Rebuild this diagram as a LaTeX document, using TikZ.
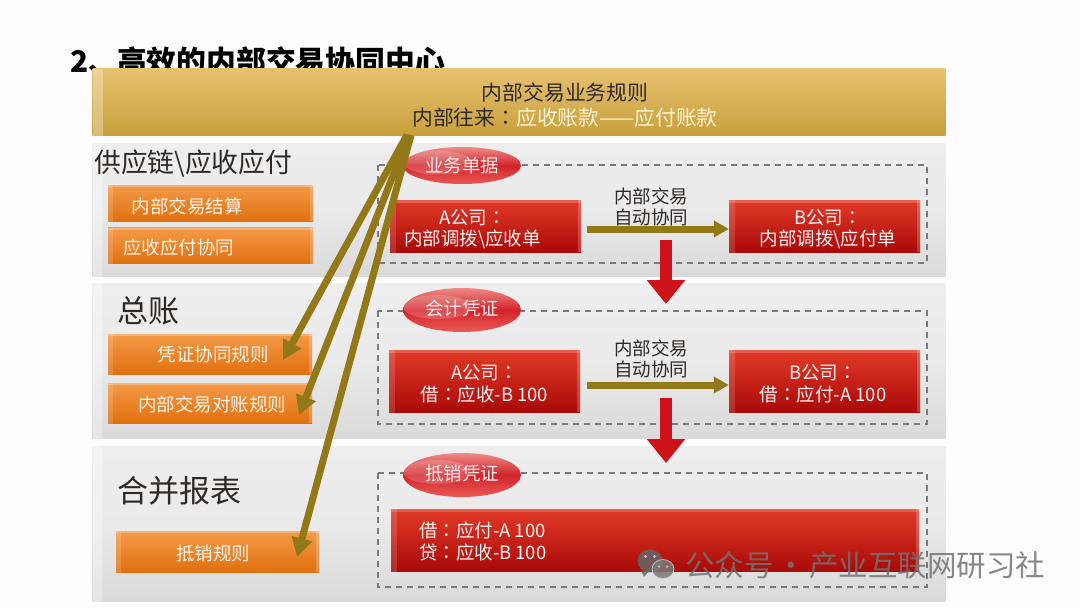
\documentclass[tikz,border=0pt]{standalone}
\usepackage{fontspec}
\setmainfont{Noto Sans CJK SC}
\newfontfamily\colonfont{Noto Sans CJK TC}
\usetikzlibrary{arrows.meta,shapes.geometric}
\definecolor{bgc}{HTML}{FDFDFD}
\definecolor{goldline}{HTML}{937818}
\definecolor{darkred}{HTML}{CE1218}
\definecolor{txtdark}{HTML}{2E2A28}
\definecolor{cream}{HTML}{FFF3D2}
\newcommand{\cln}{{\colonfont ：}}
\newcommand{\fs}[1]{\fontsize{#1}{#1}\selectfont}
% text in a box: #1 shift right, #2 shift down, #3 line distance, #4 alignment, #5 the lines
\newcommand{\sh}[5]{\makebox[0pt][c]{\hspace*{#1pt}\raisebox{-#2pt}[\height][\depth]{\parbox[c]{300pt}{\fontsize{18.5}{#3}\selectfont#4 #5}}}}
\tikzset{
  x=1pt,y=-1pt,
  panel/.style={inner sep=0pt,top color=#1!80!white,bottom color=#1!93!black,middle color=#1,
    path picture={\fill[white,opacity=.35] (path picture bounding box.north west) rectangle ++(9pt,-170pt);}},
  barbox/.style={inner sep=0pt,top color=bar1,bottom color=bar2,text=txtdark,align=center,
    path picture={\fill[white,opacity=.3] (path picture bounding box.north west) rectangle ++(10pt,-80pt);}},
  orangebox/.style={inner sep=0pt,top color=orange1,bottom color=orange2,text=white!92!orange,
    path picture={\fill[white,opacity=.25] (path picture bounding box.north west) rectangle ++(210pt,-2pt);
      \fill[white,opacity=.15] (path picture bounding box.north west) rectangle ++(5pt,-50pt);
      \fill[white,opacity=.2] (path picture bounding box.south east) rectangle ++(-3pt,50pt);}},
  redbox/.style={inner sep=0pt,top color=red1,bottom color=red2,text=white!95!red,align=center,
    path picture={\fill[white,opacity=.14] (path picture bounding box.north west) rectangle ++(6pt,-90pt);
      \fill[white,opacity=.18] (path picture bounding box.north west) rectangle ++(560pt,-3pt);
      \fill[white,opacity=.2] (path picture bounding box.south east) rectangle ++(-3pt,90pt);}},
  tagell/.style={ellipse,inner sep=0pt,minimum width=118pt,top color=tag1,bottom color=tag2,middle color=tag3,text=white!92!red,
    path picture={\fill[white,opacity=.18] (path picture bounding box.west) ++(34pt,3pt) ellipse (34pt and 12pt);}},
  dashbox/.style={draw=black!52,line width=1.1pt,dash pattern=on 6pt off 5pt},
  goldarrow/.style={draw=goldline,line width=7pt,-{Triangle[length=19pt,width=20pt]}},
  darrow/.style={draw=goldline,line width=7pt,-{Triangle[length=15pt,width=16pt]}},
  redarrow/.style={draw=darkred,line width=12pt,-{Triangle[length=24pt,width=37pt]}},
  headtext/.style={inner sep=0pt,text=txtdark},
  flowtext/.style={inner sep=0pt,text=txtdark,align=center,font=\fontsize{18.5}{21}\selectfont},
  ruletext/.style={inner sep=0pt,text=txtdark,align=center,font=\fontsize{20.8}{25}\selectfont},
  mark text/.style={inner sep=0pt,anchor=west,text=black!55,opacity=.85},
}
\definecolor{bar1}{HTML}{E6C170}
\definecolor{bar2}{HTML}{C99F3C}
\definecolor{orange1}{HTML}{F49A48}
\definecolor{orange2}{HTML}{E0700F}
\definecolor{red1}{HTML}{E23A28}
\definecolor{red2}{HTML}{A90A08}
\definecolor{tag1}{HTML}{EE8A85}
\definecolor{tag2}{HTML}{EA5A55}
\definecolor{tag3}{HTML}{D2242A}
\definecolor{panelc}{HTML}{EAEAEA}
\begin{document}
\begin{tikzpicture}
\useasboundingbox (0,0) rectangle (1080,608);
\fill[bgc] (0,0) rectangle (1080,608);
% title (its lower edge is hidden by the bar)
\node[inner sep=0pt,anchor=west,text=black] (title) at (70,61) {\fs{29.8}\bfseries 2、\hspace{-1pt}高效的内部交易协同中心};
% rule bar
\node[barbox,minimum width=853pt,minimum height=67pt] (rules) at (519,102) {};
\node[ruletext] (rulestext) at (565,105.5) {内部交易业务规则\\内部往来\cln\textcolor{cream}{应收账款——应付账款}};
% panels
\node[panel=panelc,minimum width=853pt,minimum height=133pt] (p1) at (519,209.5) {};
\node[panel=panelc,minimum width=853pt,minimum height=155pt] (p2) at (519,360.5) {};
\node[panel=panelc,minimum width=853pt,minimum height=155pt] (p3) at (519,523.5) {};
% dashed frames
\draw[dashbox] (378,165) rectangle (927,263);
\draw[dashbox] (378,311) rectangle (927,424);
\draw[dashbox] (378,473) rectangle (927,587);
% left headings
\node[headtext,anchor=west] (h1) at (94,164) {\fs{26.8}供应链\textbackslash 应收应付};
\node[headtext,anchor=west] (h2) at (117,311) {\fs{31}总账};
\node[headtext,anchor=west] (h3) at (117,491) {\fs{31}合并报表};
% orange boxes
\node[orangebox,minimum width=205pt,minimum height=36pt] (o1) at (210.5,203) {\sh{-47}{3.5}{22}{\centering}{内部交易结算}};
\node[orangebox,minimum width=205pt,minimum height=36pt] (o2) at (210.5,245.5) {\sh{-64}{1.5}{22}{\centering}{应收应付协同}};
\node[orangebox,minimum width=204pt,minimum height=40pt] (o3) at (210,354) {\sh{6}{.5}{22}{\centering}{凭证协同规则}};
\node[orangebox,minimum width=204pt,minimum height=40pt] (o4) at (210,403) {\sh{4}{1.5}{22}{\centering}{内部交易对账规则}};
\node[orangebox,minimum width=203pt,minimum height=41pt] (o5) at (217.5,551.5) {\sh{-9}{1.5}{22}{\centering}{抵销规则}};
% tags
\node[tagell,minimum height=37pt] (t1) at (462,165.5) {\sh{0}{0}{22}{\centering}{业务单据}};
\node[tagell,minimum height=44pt] (t2) at (462,310) {\sh{0}{-2}{22}{\centering}{会计凭证}};
\node[tagell,minimum height=44pt] (t3) at (462,475) {\sh{0}{-2}{22}{\centering}{抵销凭证}};
% red boxes
\node[redbox,minimum width=191pt,minimum height=52pt] (a1) at (485.5,226) {\sh{-26}{3}{21}{\centering}{A公司\cln\\内部调拨\textbackslash 应收单}};
\node[redbox,minimum width=191pt,minimum height=52pt] (b1) at (824.5,226) {\sh{7}{3}{21}{\centering}{B公司\cln\\内部调拨\textbackslash 应付单}};
\node[redbox,minimum width=191pt,minimum height=62pt] (a2) at (484.5,381) {\sh{0}{2.5}{22}{\centering}{A公司\cln\\借\cln 应收-B 100}};
\node[redbox,minimum width=191pt,minimum height=62pt] (b2) at (824.5,381) {\sh{-3}{2.5}{22}{\centering}{B公司\cln\\借\cln 应付-A 100}};
\node[redbox,minimum width=528pt,minimum height=62pt] (c3) at (655,540) {\sh{-172}{1}{22}{\raggedright}{借\cln 应付-A 100\\贷\cln 应收-B 100}};
% horizontal flows
\node[flowtext] (f1) at (651,207) {内部交易\\自动协同};
\node[flowtext] (f2) at (651,359) {内部交易\\自动协同};
\coordinate (g1s) at (587,229);
\coordinate (g2s) at (587,385);
\draw[darrow] (g1s) -- (g1s -| b1.west);
\draw[darrow] (g2s) -- (g2s -| b2.west);
% vertical flows
\coordinate (r1s) at (666,240);
\coordinate (r1e) at (666,304);
\coordinate (r2s) at (666,398);
\coordinate (r2e) at (666,463);
\draw[redarrow] (r1s) -- (r1e);
\draw[redarrow] (r2s) -- (r2e);
% rule arrows
\coordinate (rs1) at (407,135);
\coordinate (rs2) at (409,135);
\coordinate (rs3) at (411,135);
\coordinate (te1) at (283,360);
\coordinate (te2) at (299,415);
\coordinate (te3) at (297,557);
\draw[goldarrow] (rs1) -- (te1);
\draw[goldarrow] (rs2) -- (te2);
\draw[goldarrow] (rs3) -- (te3);
% watermark
\begin{scope}[opacity=.85]
\fill[black!60] (650,561) ellipse (12.5pt and 11.5pt);
\fill[black!60] (641,571) -- (644,577) -- (649,571) -- cycle;
\fill[black!52,draw=white!80!black,line width=.8pt] (663,569) ellipse (11pt and 9.5pt);
\fill[white!80!black] (645.5,556.5) circle (1.7pt) (654.5,556.5) circle (1.7pt) (659,566.5) circle (1.4pt) (667,566.5) circle (1.4pt);
\end{scope}
\node[mark text] (wm) at (685,565) {\fs{29.5}公众号\hspace{3pt}·\hspace{3pt}产业互联网研习社};
\end{tikzpicture}
\end{document}
